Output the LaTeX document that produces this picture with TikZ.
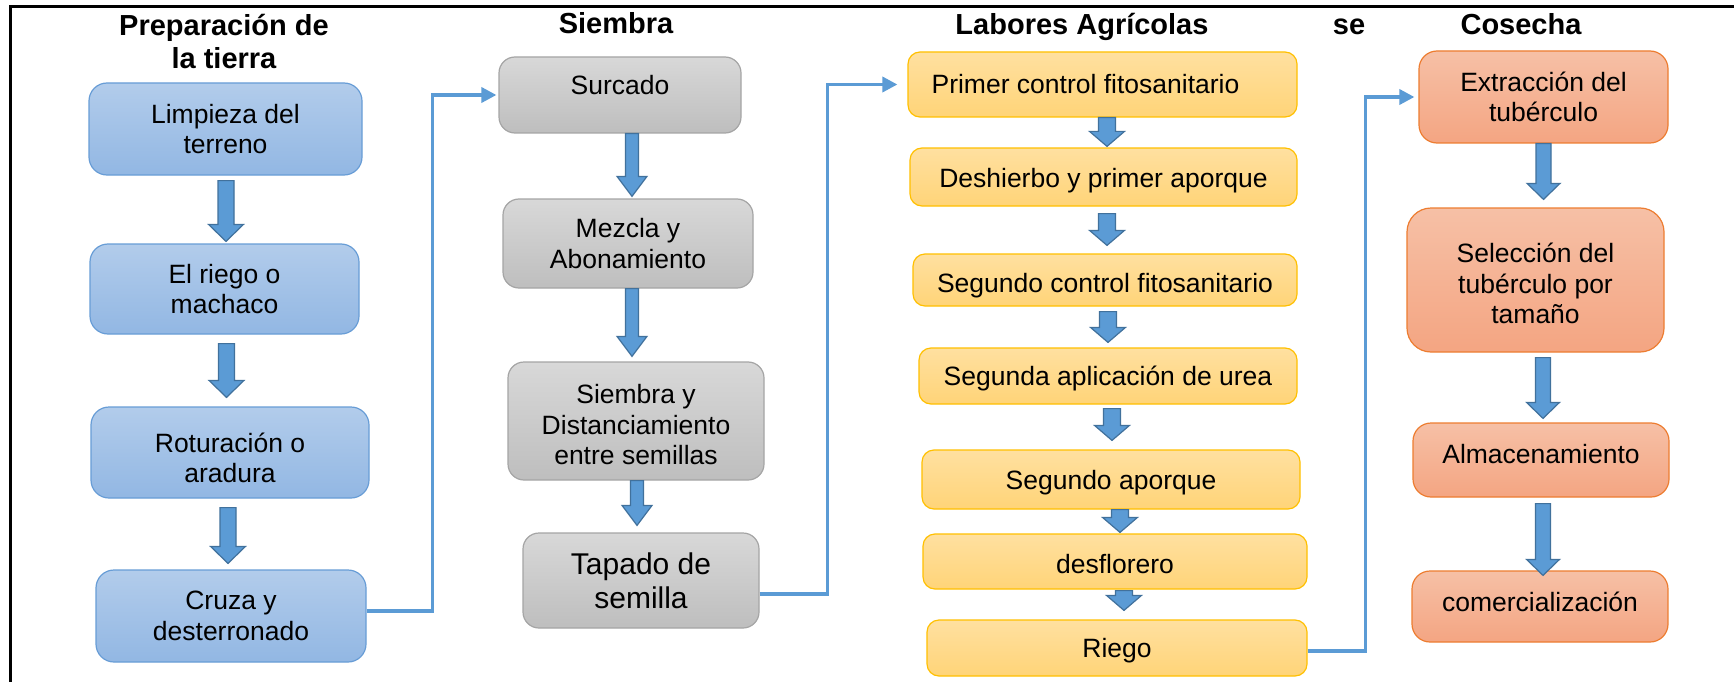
\documentclass[tikz,border=0pt]{standalone}
\usepackage{fontspec}
\setmainfont{Liberation Sans}
\usetikzlibrary{arrows.meta,calc}
\definecolor{bluetop}{RGB}{178,204,235}
\definecolor{bluebot}{RGB}{146,183,227}
\definecolor{blueline}{RGB}{104,157,214}
\definecolor{greytop}{RGB}{216,216,216}
\definecolor{greybot}{RGB}{190,190,190}
\definecolor{greyline}{RGB}{165,165,165}
\definecolor{yeltop}{RGB}{255,224,160}
\definecolor{yelbot}{RGB}{255,212,120}
\definecolor{yelline}{RGB}{255,192,0}
\definecolor{ortop}{RGB}{246,192,166}
\definecolor{orbot}{RGB}{244,165,130}
\definecolor{orline}{RGB}{237,125,49}
\definecolor{arrfill}{RGB}{91,155,213}
\definecolor{arrline}{RGB}{65,113,156}
\definecolor{linkcol}{RGB}{91,155,213}
% block arrow: from node, to node, dx, gap top, gap bottom, shaft half, head half, head length
\newcommand\blockarr[8]{%
  \draw[blk] let \p1=(#1.south), \p2=(#2.north) in
    (\x1+#3pt-#6pt,\y1-#4pt) -- (\x1+#3pt+#6pt,\y1-#4pt) --
    (\x1+#3pt+#6pt,\y2+#5pt+#8pt) -- (\x1+#3pt+#7pt,\y2+#5pt+#8pt) --
    (\x1+#3pt,\y2+#5pt) --
    (\x1+#3pt-#7pt,\y2+#5pt+#8pt) -- (\x1+#3pt-#6pt,\y2+#5pt+#8pt) -- cycle;}
\begin{document}
\begin{tikzpicture}[x=1pt,y=-1pt,
  base/.style={draw, line width=1.2pt, align=center, inner sep=0pt,
    font=\fontsize{26.5}{30.5}\selectfont, text=black},
  bluebox/.style={base, rounded corners=18pt, top color=bluetop, bottom color=bluebot, draw=blueline},
  greybox/.style={base, rounded corners=16pt, top color=greytop, bottom color=greybot, draw=greyline},
  yelbox/.style={base, rounded corners=12pt, top color=yeltop, bottom color=yelbot, draw=yelline},
  orbox/.style={base, rounded corners=18pt, top color=ortop, bottom color=orbot, draw=orline},
  head/.style={align=center, inner sep=0pt, font=\fontsize{29}{33}\selectfont\bfseries},
  blk/.style={fill=arrfill, draw=arrline, line width=1.2pt, line join=miter},
  link/.style={draw=linkcol, line width=3.5pt, -{Triangle[length=15pt,width=15pt]}}
]
\useasboundingbox (0,0) rectangle (1734,682);
\fill[white] (0,0) rectangle (1734,682);
% frame
\draw[line width=3pt] (10,682) -- (10,7) -- (1734,7);

% headings
\node[head] (h1) at (224,42) {Preparación de\\la tierra};
\node[head, anchor=base] (h2) at (616,34) {Siembra};
\node[head, anchor=base] (h3) at (1082,35) {Labores Agrícolas};
\node[head, anchor=base] (h4) at (1349,35) {se};
\node[head, anchor=base] (h5) at (1521,35) {Cosecha};

% column 1
\node[bluebox, minimum width=273pt, minimum height=92pt] (B1) at (225.5,129) {Limpieza del\\terreno};
\node[bluebox, minimum width=269pt, minimum height=90pt] (B2) at (224.5,289) {El riego o\\machaco};
\node[bluebox, minimum width=278pt, minimum height=91pt] (B3) at (230,452.5) {\rule{0pt}{30pt}Roturación o\\aradura};
\node[bluebox, minimum width=270pt, minimum height=92pt] (B4) at (231,616) {Cruza y\\desterronado};

% column 2
\node[greybox, minimum width=242pt, minimum height=76pt, text height=19pt, text depth=20pt] (G1) at (620,95) {Surcado};
\node[greybox, minimum width=250pt, minimum height=89pt] (G2) at (628,243.5) {Mezcla y\\Abonamiento};
\node[greybox, minimum width=256pt, minimum height=118pt] (G3) at (636,421) {\rule{0pt}{27pt}Siembra y\\Distanciamiento\\entre semillas};
\node[greybox, minimum width=236pt, minimum height=95pt, font=\fontsize{30}{34}\selectfont] (G4) at (641,580.5) {Tapado de\\semilla};

% column 3
\node[yelbox, minimum width=389pt, minimum height=65pt, text height=19pt, text depth=0pt] (Y1) at (1102.5,84.5) {\hspace*{-34pt}Primer control fitosanitario};
\node[yelbox, minimum width=387pt, minimum height=58pt, text height=26.5pt, text depth=5.5pt] (Y2) at (1103.5,177) {Deshierbo y primer aporque};
\node[yelbox, minimum width=384pt, minimum height=52pt, text height=30.5pt, text depth=5.5pt] (Y3) at (1105,280) {Segundo control fitosanitario};
\node[yelbox, minimum width=378pt, minimum height=56pt, text height=24.5pt, text depth=5.5pt] (Y4) at (1108,376) {Segunda aplicación de urea};
\node[yelbox, minimum width=378pt, minimum height=59pt, text height=25.5pt, text depth=5.5pt] (Y5) at (1111,479.5) {Segundo aporque};
\node[yelbox, minimum width=384pt, minimum height=55pt, text height=29.5pt, text depth=5.5pt] (Y6) at (1115,561.5) {desflorero};
\node[yelbox, minimum width=380pt, minimum height=56pt, text height=24.5pt, text depth=5.5pt] (Y7) at (1117,648) {Riego};

% column 4
\node[orbox, minimum width=249pt, minimum height=92pt] (O1) at (1543.5,97) {Extracción del\\tubérculo};
\node[orbox, rounded corners=24pt, minimum width=257pt, minimum height=144pt] (O2) at (1535.5,280) {\rule{0pt}{27pt}Selección del\\tubérculo por\\tamaño};
\node[orbox, minimum width=256pt, minimum height=74pt, text height=19pt, text depth=12pt] (O3) at (1541,460) {Almacenamiento};
\node[orbox, minimum width=256pt, minimum height=71pt, text height=19pt, text depth=9pt] (O4) at (1540,606.5) {comercialización};

% block arrows column 1
\blockarr{B1}{B2}{0.5}{5}{2}{8}{17.5}{17}
\blockarr{B2}{B3}{2}{9}{9}{8}{17.5}{17}
\blockarr{B3}{B4}{-2}{9}{6}{8}{17.5}{17}
% column 2
\blockarr{G1}{G2}{12}{0}{2}{6.5}{15}{20}
\blockarr{G2}{G3}{4}{0}{5}{6.5}{15}{20}
\blockarr{G3}{G4}{1}{0}{7}{6.5}{15}{20}
% column 3
\blockarr{Y1}{Y2}{4.5}{0}{1}{8.5}{17.5}{15}
\blockarr{Y2}{Y3}{3.5}{7}{8}{8.5}{17.5}{15}
\blockarr{Y3}{Y4}{3}{5}{5}{8.5}{17.5}{15}
\blockarr{Y4}{Y5}{4}{4}{9}{8.5}{17.5}{15}
\blockarr{Y5}{Y6}{9}{0}{1}{8.5}{17.5}{15}
\blockarr{Y6}{Y7}{9}{1}{9}{8.5}{17.5}{15}
% column 4
\blockarr{O1}{O2}{0}{0}{8}{7.5}{16.5}{16}
\blockarr{O2}{O3}{7.5}{5}{4}{7.5}{16.5}{16}
\blockarr{O3}{O4}{2}{6}{-5}{7.5}{16.5}{16}

% links between columns
\draw[link, shorten >=2pt] ([yshift=5pt]B4.east) -- ++(66,0) |- (G1.west);
\draw[link, shorten >=10pt] ([yshift=-13.5pt]G4.east) -- ++(68,0) |- (Y1.west);
\draw[link, shorten >=4pt] ([yshift=-3pt]Y7.east) -- ++(58,0) |- (O1.west);
\end{tikzpicture}
\end{document}
